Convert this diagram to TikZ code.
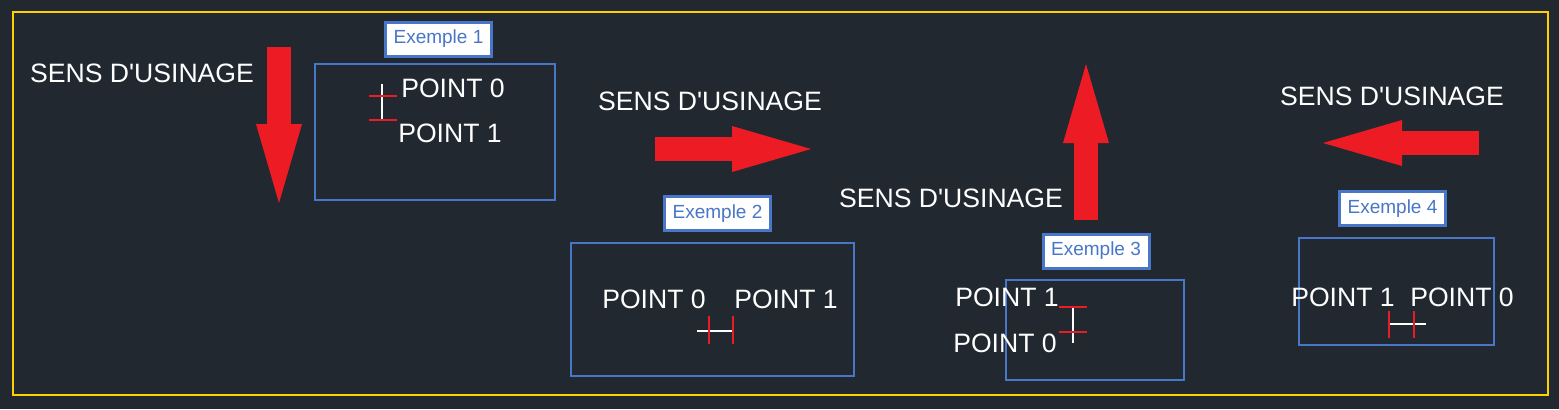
\documentclass[tikz,border=0pt]{standalone}
\usepackage{fontspec}
\newfontfamily\cadfont{Liberation Sans}
\usetikzlibrary{arrows.meta, positioning}
\definecolor{cadbg}{RGB}{33,40,48}
\definecolor{cadblue}{RGB}{72,118,200}
\definecolor{cadred}{RGB}{237,28,36}
\definecolor{cadyellow}{RGB}{255,208,0}
\tikzset{
    examplebox/.style={rectangle, draw=cadblue, line width=1.2pt, inner sep=0pt},
    labelbox/.style={rectangle, draw=cadblue, fill=white, line width=1.5pt, text=cadblue,
        minimum width=53pt, minimum height=17pt, inner sep=0pt,
        font=\cadfont\fontsize{9.5}{11}\selectfont},
    sensarrow/.style={line width=12pt, cadred,
        -{Triangle[length=39.5pt, width=23pt, line width=0pt]}},
    sensetext/.style={text=white, inner sep=0pt, text height=9.6pt, text depth=0pt,
        font=\cadfont\fontsize{13.3}{16}\selectfont},
    pointtext/.style={sensetext},
    originline/.style={white, line width=0.6pt},
    refline/.style={cadred, line width=0.6pt},
}
\begin{document}
\begin{tikzpicture}[x=0.5pt, y=-0.5pt]
    % background and frame
    \fill[cadbg] (0,0) rectangle (1559,409);
    \useasboundingbox (0,0) rectangle (1559,409);
    \draw[cadyellow, line width=0.8pt] (13,12) rectangle (1548,395);

    % Exemple 1 : downwards
    \coordinate (a1s) at (279,47);
    \coordinate (a1e) at (279,203);
    \draw[sensarrow] (a1s) -- (a1e);
    \node[sensetext] (sens1) at (142,73) {SENS D'USINAGE};
    \node[examplebox, minimum width=120pt, minimum height=68pt] (ex1) at (435,132) {};
    \node[labelbox] (lab1) at (438.5,39) {Exemple 1};
    \node[pointtext] (p10) at (453,88) {POINT 0};
    \node[pointtext] (p11) at (450,133) {POINT 1};
    \draw[originline] (382,84) -- (382,121);
    \draw[refline] (369,96) -- (397,96);
    \draw[refline] (369,120) -- (397,120);

    % Exemple 2 : to the right
    \coordinate (a2s) at (655,149);
    \coordinate (a2e) at (811,149);
    \draw[sensarrow] (a2s) -- (a2e);
    \node[sensetext] (sens2) at (710,101) {SENS D'USINAGE};
    \node[examplebox, minimum width=141.5pt, minimum height=66.5pt] (ex2) at (712.5,309.5) {};
    \node[labelbox] (lab2) at (717.5,213.5) {Exemple 2};
    \node[pointtext] (p20) at (654,299) {POINT 0};
    \node[pointtext] (p21) at (786,299) {POINT 1};
    \draw[originline] (697,331) -- (734,331);
    \draw[refline] (709,316) -- (709,344);
    \draw[refline] (733,316) -- (733,344);

    % Exemple 3 : upwards
    \coordinate (a3s) at (1086,220);
    \coordinate (a3e) at (1086,64);
    \draw[sensarrow] (a3s) -- (a3e);
    \node[sensetext] (sens3) at (951,198) {SENS D'USINAGE};
    \node[examplebox, minimum width=89pt, minimum height=50pt] (ex3) at (1095,330) {};
    \node[labelbox] (lab3) at (1096,251) {Exemple 3};
    \node[pointtext] (p31) at (1007,297) {POINT 1};
    \node[pointtext] (p30) at (1005,343) {POINT 0};
    \draw[originline] (1073,306) -- (1073,343);
    \draw[refline] (1059,307) -- (1087,307);
    \draw[refline] (1059,332) -- (1087,332);

    % Exemple 4 : to the left
    \coordinate (a4s) at (1479,143);
    \coordinate (a4e) at (1323,143);
    \draw[sensarrow] (a4s) -- (a4e);
    \node[sensetext] (sens4) at (1392,96) {SENS D'USINAGE};
    \node[examplebox, minimum width=97.5pt, minimum height=53.5pt] (ex4) at (1396.5,291.5) {};
    \node[labelbox] (lab4) at (1392.5,208.5) {Exemple 4};
    \node[pointtext] (p41) at (1343,297) {POINT 1};
    \node[pointtext] (p40) at (1462,297) {POINT 0};
    \draw[originline] (1388,324) -- (1426,324);
    \draw[refline] (1389,311) -- (1389,338);
    \draw[refline] (1414,311) -- (1414,338);
\end{tikzpicture}
\end{document}
